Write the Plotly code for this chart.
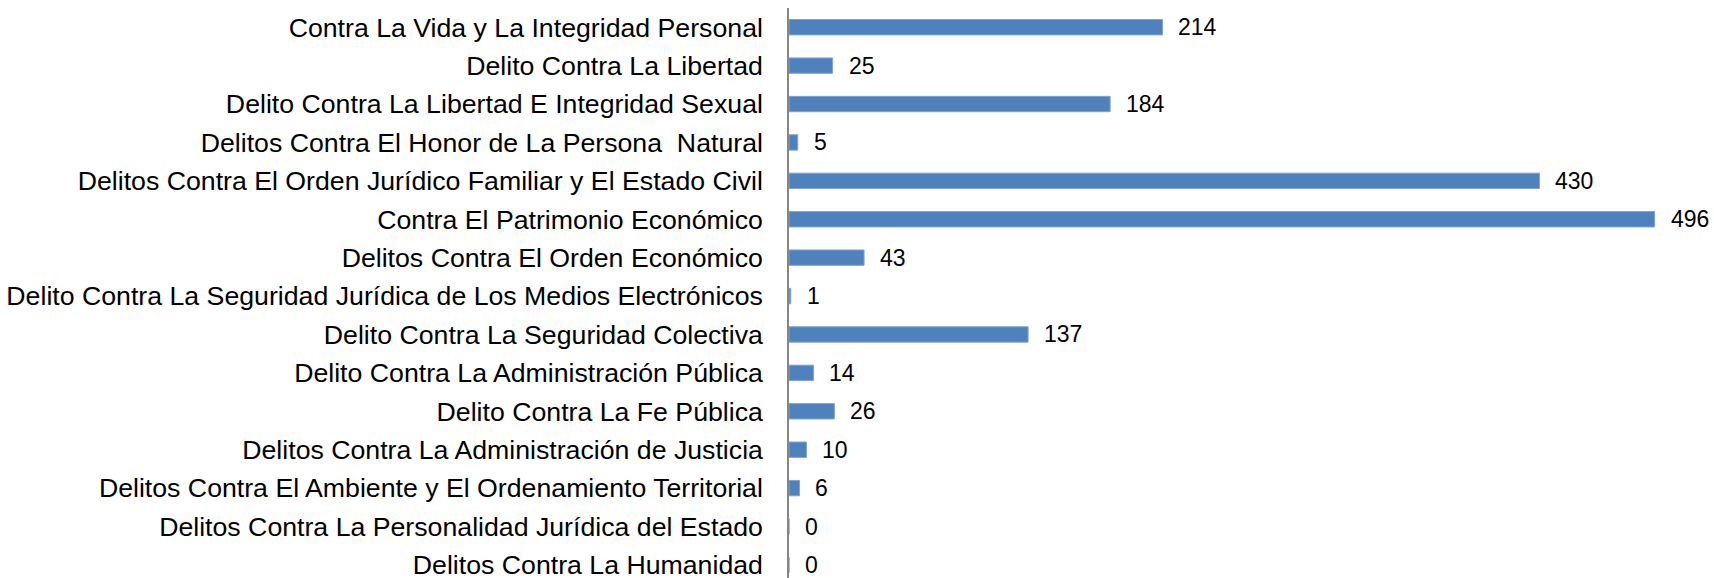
import plotly.graph_objects as go

categories = [
    "Contra La Vida y La Integridad Personal",
    "Delito Contra La Libertad",
    "Delito Contra La Libertad E Integridad Sexual",
    "Delitos Contra El Honor de La Persona  Natural",
    "Delitos Contra El Orden Jurídico Familiar y El Estado Civil",
    "Contra El Patrimonio Económico",
    "Delitos Contra El Orden Económico",
    "Delito Contra La Seguridad Jurídica de Los Medios Electrónicos",
    "Delito Contra La Seguridad Colectiva",
    "Delito Contra La Administración Pública",
    "Delito Contra La Fe Pública",
    "Delitos Contra La Administración de Justicia",
    "Delitos Contra El Ambiente y El Ordenamiento Territorial",
    "Delitos Contra La Personalidad Jurídica del Estado",
    "Delitos Contra La Humanidad",
]
values = [214, 25, 184, 5, 430, 496, 43, 1, 137, 14, 26, 10, 6, 0, 0]

FONT = "Liberation Sans, Arial, sans-serif"

fig = go.Figure()
fig.add_trace(go.Bar(
    x=values, y=categories, orientation="h",
    marker=dict(color="#4F81BD", line=dict(color="#7FA3D3", width=1)),
    width=0.4,
    hoverinfo="x+y",
))

for c, v in zip(categories, values):
    fig.add_annotation(x=v, y=c, text=str(v), showarrow=False,
                       xanchor="left", yanchor="middle", xshift=14,
                       font=dict(family=FONT, size=23, color="#000000"))

fig.update_layout(
    width=1714, height=578,
    margin=dict(l=789, r=0, t=8, b=0),
    paper_bgcolor="white", plot_bgcolor="white",
    showlegend=False,
    bargap=0.6,
)
fig.update_xaxes(range=[0, 530], visible=False, showgrid=False, zeroline=False)
fig.update_yaxes(
    type="category", categoryorder="array", categoryarray=categories,
    range=[14.34, -0.5], autorange=False,
    showline=True, linecolor="#868686", linewidth=1.5,
    showgrid=False, zeroline=False, ticks="",
    ticklabelstandoff=19,
    tickfont=dict(family=FONT, size=26.7, color="#000000"),
    automargin=False,
)

fig.write_html("out.html",
               config={"displayModeBar": False},
               post_script="document.body.style.margin='0';document.body.style.overflow='hidden';")
